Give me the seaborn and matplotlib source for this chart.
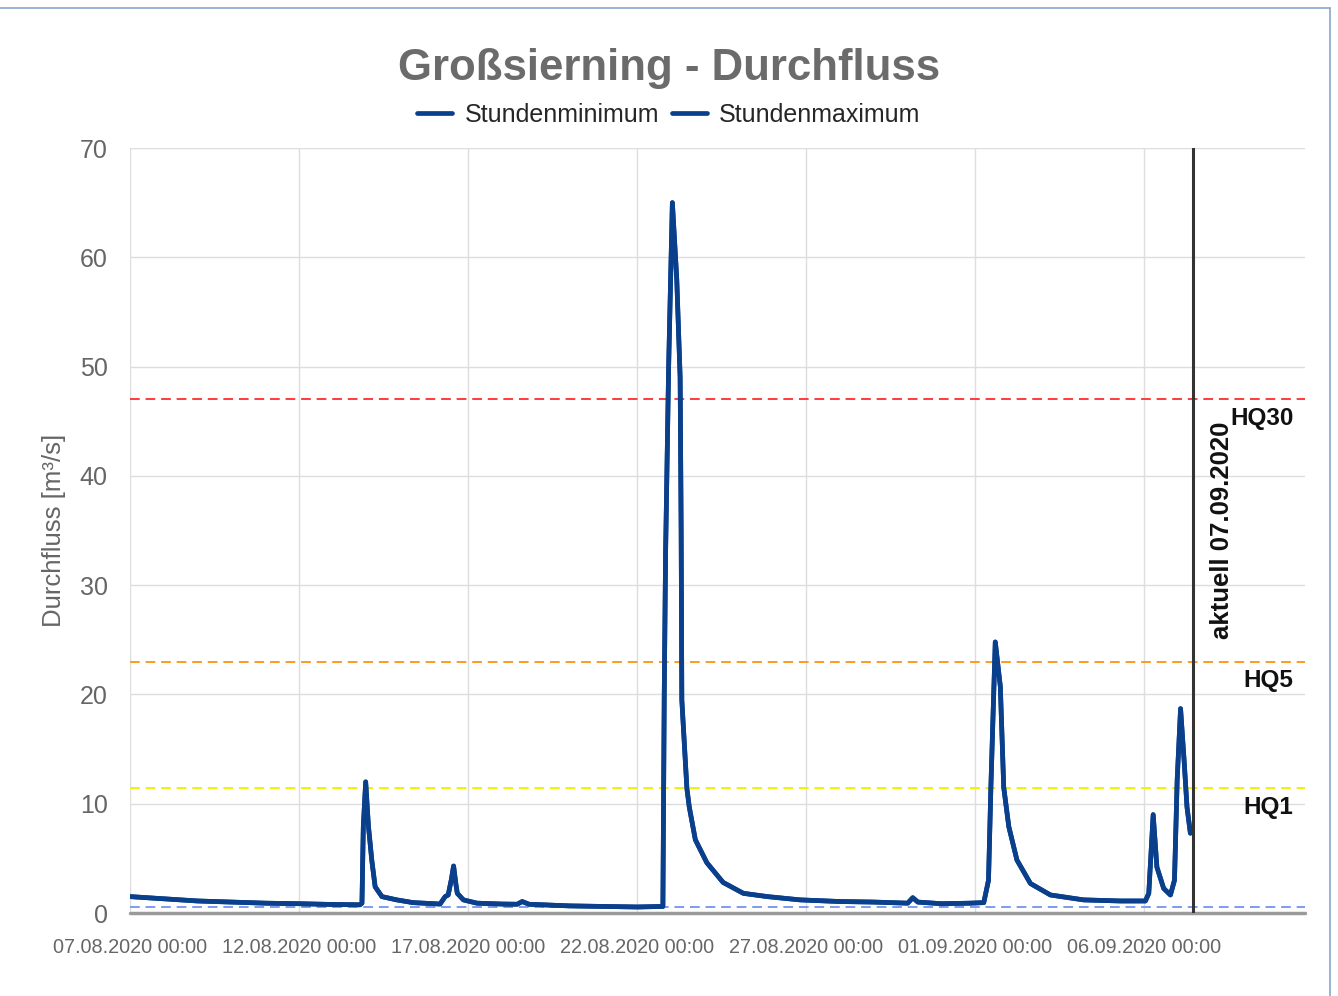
import pandas as pd
import matplotlib
matplotlib.use("Agg")
import matplotlib.pyplot as plt
import matplotlib.dates as mdates
import seaborn as sns

start = pd.Timestamp("2020-08-07 00:00")
tage = [0.0, 0.5, 1.0, 2.0, 3.0, 4.0, 5.0, 6.0, 6.8, 6.86, 6.9, 6.97, 7.05, 7.15, 7.25,
        7.45, 7.89, 8.37, 9.17, 9.32, 9.41, 9.5, 9.57, 9.64, 9.68, 9.86, 10.26, 11.0,
        11.45, 11.6, 11.8, 13.0, 14.0, 15.0, 15.76, 15.8, 15.84, 15.93, 16.04, 16.17,
        16.27, 16.3, 16.32, 16.47, 16.54, 16.72, 17.06, 17.54, 18.14, 18.85, 19.82,
        21.0, 22.0, 23.0, 23.15, 23.3, 24.0, 24.85, 25.25, 25.39, 25.46, 25.59, 25.74,
        25.84, 25.99, 26.23, 26.63, 27.22, 28.2, 29.29, 30.03, 30.13, 30.26, 30.37,
        30.57, 30.77, 30.89, 30.97, 31.07, 31.18, 31.26, 31.36]
stundenminimum = [1.5, 1.4, 1.3, 1.1, 1.0, 0.9, 0.85, 0.78, 0.75, 0.9, 7.9, 12.0, 8.0, 4.85, 2.4,
                  1.5, 1.2, 0.95, 0.82, 1.5, 1.65, 3.0, 4.3, 2.6, 1.8, 1.2, 0.9, 0.82,
                  0.8, 1.05, 0.8, 0.65, 0.6, 0.55, 0.6, 20.0, 33.0, 50.0, 65.0, 58.0,
                  49.0, 35.0, 19.5, 11.4, 9.7, 6.7, 4.6, 2.8, 1.8, 1.5, 1.2,
                  1.05, 1.0, 0.9, 1.4, 1.0, 0.85, 0.9, 0.95, 3.0, 11.5, 24.8, 20.7,
                  11.5, 7.9, 4.85, 2.7, 1.65, 1.2, 1.1, 1.1, 1.8, 9.0, 4.2,
                  2.25, 1.65, 3.0, 12.2, 18.7, 13.7, 9.7, 7.3]
stundenmaximum = list(stundenminimum)

# Schwellenwerte
hq_namen = ["HQ30", "HQ5", "HQ1"]
hq_werte = [47.0, 23.0, 11.4]
hq_farben = ["#ff3b3b", "#ff9a1f", "#f2f200"]
mq_wert = 0.55

tick_labels = ["07.08.2020", "12.08.2020", "17.08.2020", "22.08.2020",
               "27.08.2020", "01.09.2020", "06.09.2020"]
aktuell = pd.Timestamp("2020-09-07 10:50")
x_ende = pd.Timestamp("2020-09-10 18:00")

zeit = start + pd.to_timedelta(tage, unit="D")
df = pd.concat([
    pd.DataFrame({"Zeit": zeit, "Durchfluss": stundenminimum, "Reihe": "Stundenminimum"}),
    pd.DataFrame({"Zeit": zeit, "Durchfluss": stundenmaximum, "Reihe": "Stundenmaximum"}),
])

sns.set_theme(style="whitegrid")
plt.rcParams["font.family"] = ["Liberation Sans", "DejaVu Sans"]

fig = plt.figure(figsize=(13.38, 9.96), dpi=100)
ax = fig.add_axes([130 / 1338, 1 - 913 / 996, 1175 / 1338, 765 / 996])

blau = "#0a3f8c"
sns.lineplot(data=df, x="Zeit", y="Durchfluss", hue="Reihe", palette=[blau, blau],
             linewidth=3.4, ax=ax, solid_joinstyle="round", solid_capstyle="round")

for name, wert, farbe in zip(hq_namen, hq_werte, hq_farben):
    ax.axhline(wert, color=farbe, lw=1.4, ls=(0, (5, 3)), zorder=1)
    ax.text(0.99, wert - 0.7, name, transform=ax.get_yaxis_transform(), ha="right",
            va="top", fontsize=17.5, fontweight="bold", color="#111111")
ax.axhline(mq_wert, color="#7d9cf0", lw=1.4, ls=(0, (5, 3)), zorder=1)

ax.axvline(aktuell, color="#333333", lw=2.2, zorder=3)
ax.text(aktuell + pd.Timedelta(hours=20), 35.0, "aktuell 07.09.2020", rotation=90,
        ha="center", va="center", fontsize=18.5, fontweight="bold", color="#111111")

ax.set_xlim(start, x_ende)
ax.set_ylim(0, 70)
ax.set_yticks(range(0, 71, 10))
ax.set_xticks([pd.to_datetime(t, format="%d.%m.%Y") for t in tick_labels])
ax.xaxis.set_major_formatter(mdates.DateFormatter("%d.%m.%Y %H:%M"))
for s in ax.spines.values():
    s.set_visible(False)
ax.axhline(0, color="#9a9a9a", lw=2.5, zorder=2, clip_on=False)
ax.grid(True, color="#dddddd", lw=1)
ax.tick_params(axis="y", length=14, width=1, color="#cccccc", labelsize=18,
               labelcolor="#666666", pad=2)
ax.tick_params(axis="x", length=16, width=1, color="#dddddd", labelsize=14.3,
               labelcolor="#666666", pad=2)
ax.set_xlabel("")
ax.set_ylabel("Durchfluss [m³/s]", fontsize=18.5, color="#666666", labelpad=10)

handles, labels = ax.get_legend_handles_labels()
ax.get_legend().remove()
fig.legend(handles, labels, loc="center", bbox_to_anchor=(0.5, 1 - 115 / 996), ncol=2,
           frameon=False, fontsize=18, handlelength=1.4, columnspacing=0.5,
           handletextpad=0.5)

fig.suptitle("Großsierning - Durchfluss", y=0.952, fontsize=31.5, fontweight="bold",
             color="#6b6b6b")

# Rahmen oben und rechts
fig.add_artist(plt.Line2D([0, 1330 / 1338], [1 - 8 / 996, 1 - 8 / 996], color="#8aa6cc", lw=1.2))
fig.add_artist(plt.Line2D([1330 / 1338, 1330 / 1338], [0, 1 - 8 / 996], color="#8aa6cc", lw=1.2))

fig.savefig("out.png", dpi=100)
